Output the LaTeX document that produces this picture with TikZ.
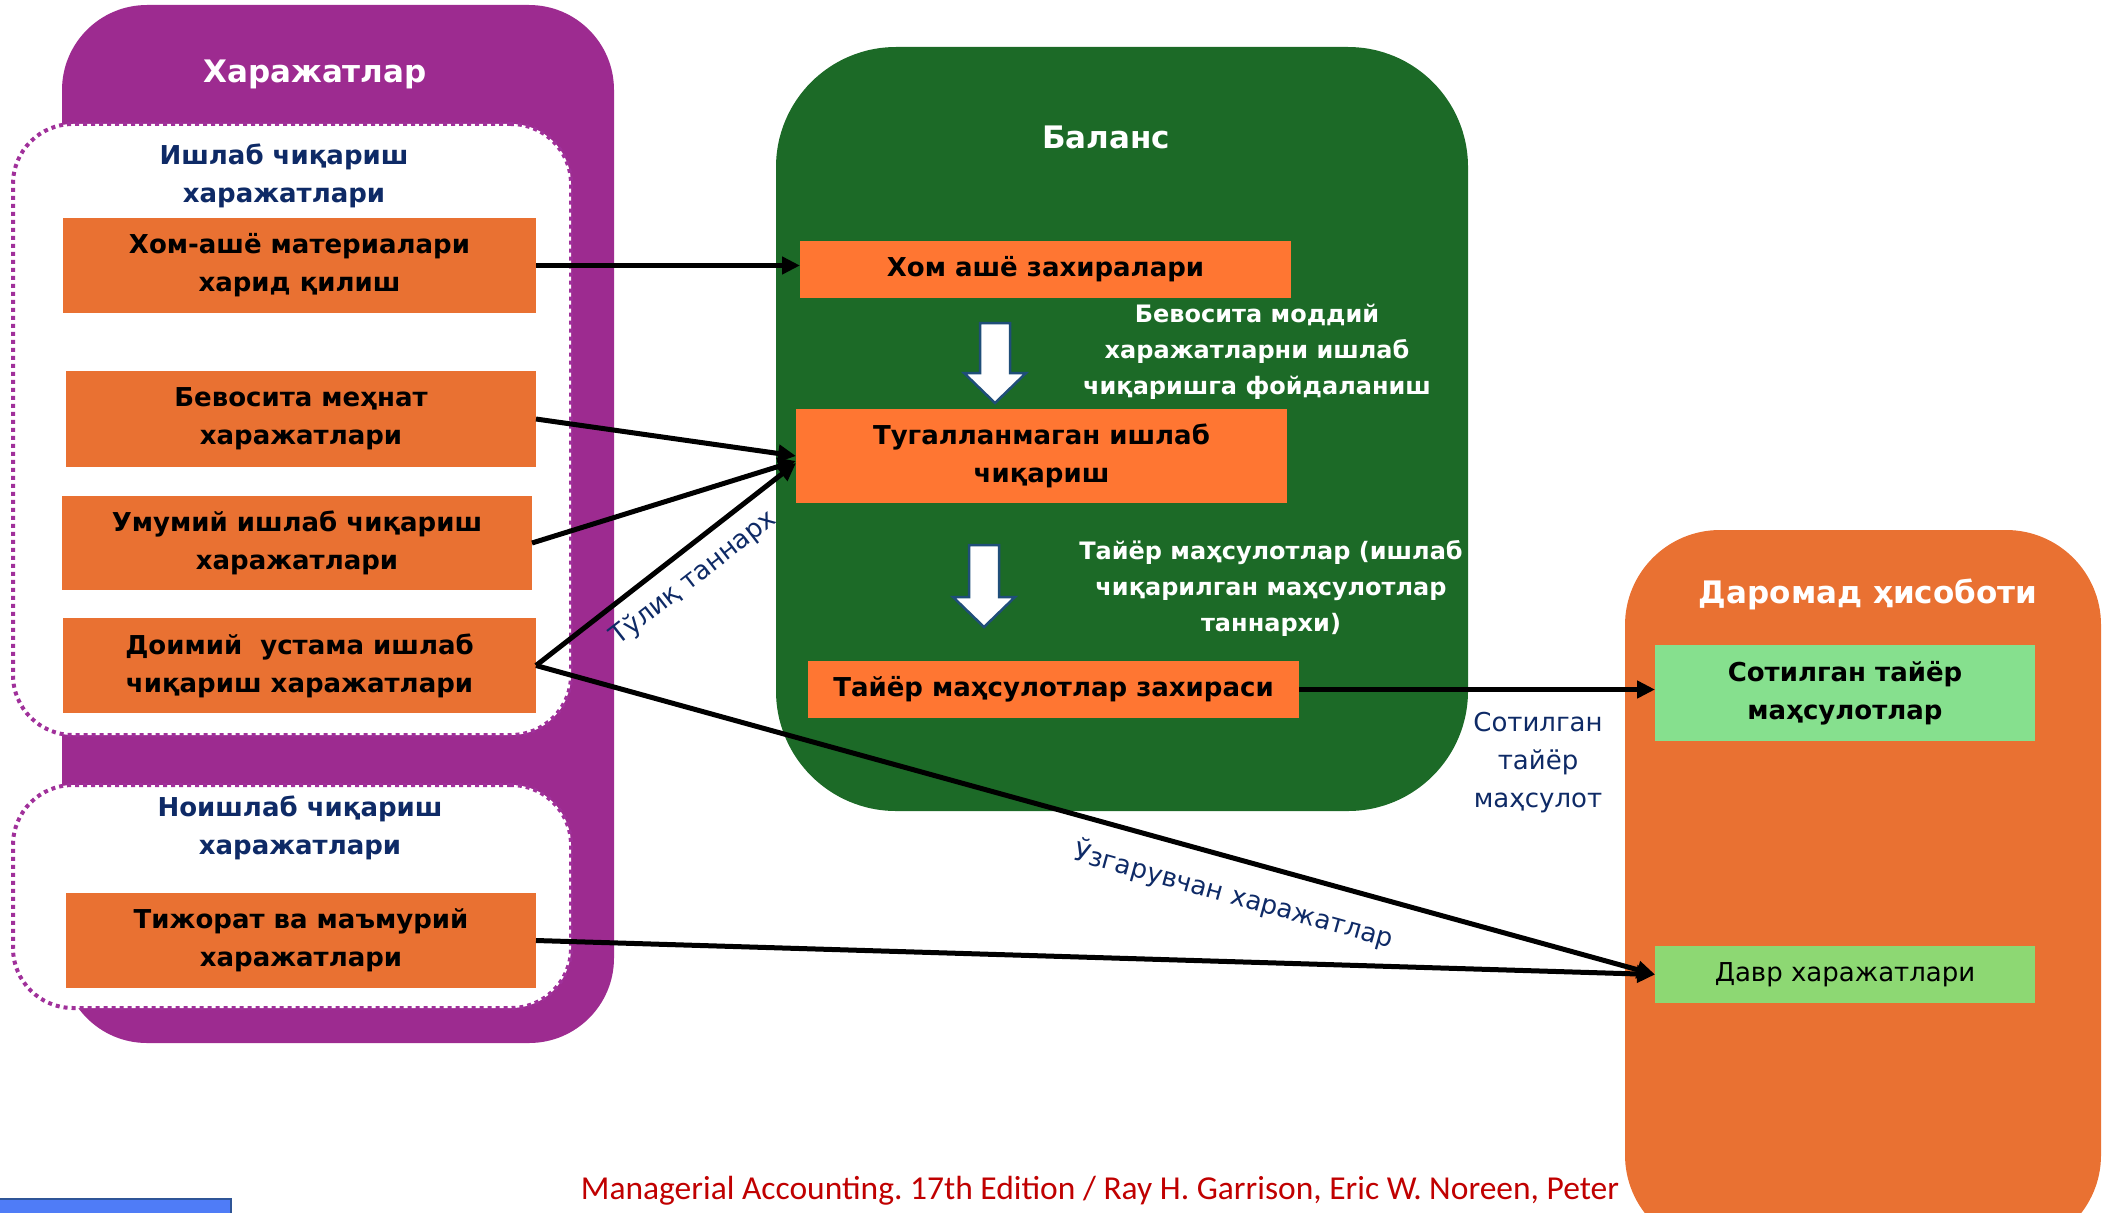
\documentclass[tikz,border=0pt]{standalone}
\usepackage{fontspec}
\setmainfont{DejaVu Sans}
\newfontfamily\footfont{Carlito}
\usetikzlibrary{arrows.meta}
\frenchspacing
\definecolor{harpurple}{HTML}{9D2B90}
\definecolor{dotpurple}{HTML}{A0309A}
\definecolor{balgreen}{HTML}{1C6A27}
\definecolor{boxorange}{HTML}{E97132}
\definecolor{balorange}{HTML}{FF7632}
\definecolor{soldgreen}{HTML}{86E08E}
\definecolor{davrgreen}{HTML}{8DD873}
\definecolor{navytext}{HTML}{0E2A66}
\definecolor{footred}{HTML}{C00000}
\definecolor{barblue}{HTML}{4F7CF7}
\definecolor{barborder}{HTML}{2F5597}
\definecolor{arrowblue}{HTML}{1F4E79}
\tikzset{
  cont/.style={inner sep=0pt, outer sep=0pt},
  dotbox/.style={cont, draw=dotpurple, fill=white, line width=4pt, dash pattern=on 4pt off 4pt, rounded corners=60pt},
  cbox/.style={inner sep=0pt, outer sep=0pt, align=center, text=black, font=\fontsize{26}{38}\selectfont\bfseries},
  ttl/.style={inner sep=0pt, align=center, text=white, font=\fontsize{31}{38}\selectfont\bfseries},
  grpttl/.style={inner sep=0pt, align=center, text=navytext, font=\fontsize{26}{38}\selectfont\bfseries},
  wnote/.style={inner sep=0pt, align=center, text=white, font=\fontsize{24}{36}\selectfont\bfseries},
  lbl/.style={inner sep=2pt, align=center, text=navytext, font=\fontsize{26}{38}\selectfont},
  conn/.style={line width=5pt, -{Triangle[length=18pt,width=17pt]}},
  blockarrow/.style={draw=arrowblue, fill=white, line width=2.5pt, line join=miter}
}
\begin{document}
\begin{tikzpicture}[x=1pt,y=-1pt]
\useasboundingbox (0,0) rectangle (2108,1212);
% containers
\node[cont, fill=harpurple, rounded corners=85pt, minimum width=552pt, minimum height=1038pt] (harajat) at (338,524) {};
\node[ttl] (harajatttl) at (315,74) {Харажатлар};
\node[dotbox, minimum width=558pt, minimum height=611pt] (prodgrp) at (292,429.5) {};
\node[dotbox, minimum width=558pt, minimum height=223pt] (nonprodgrp) at (292,896.5) {};
\node[grpttl] (prodttl) at (284,176) {Ишлаб чиқариш\\харажатлари};
\node[grpttl] (nonprodttl) at (300,828) {Ноишлаб чиқариш\\харажатлари};
\node[cbox, fill=boxorange, minimum width=473pt, minimum height=95pt] (b1) at (299.5,265.5) {Хом-ашё материалари\\харид қилиш};
\node[cbox, fill=boxorange, minimum width=470pt, minimum height=96pt] (b2) at (301,419) {Бевосита меҳнат\\харажатлари};
\node[cbox, fill=boxorange, minimum width=470pt, minimum height=94pt] (b3) at (297,543) {Умумий ишлаб чиқариш\\харажатлари};
\node[cbox, fill=boxorange, minimum width=473pt, minimum height=95pt] (b4) at (299.5,665.5) {Доимий~ устама ишлаб\\чиқариш харажатлари};
\node[cbox, fill=boxorange, minimum width=470pt, minimum height=95pt] (b5) at (301,940.5) {Тижорат ва маъмурий\\харажатлари};
% balance
\node[cont, fill=balgreen, rounded corners=120pt, minimum width=692pt, minimum height=764pt] (balance) at (1122,429) {};
\node[ttl] (balttl) at (1106,137) {Баланс};
\node[cbox, fill=balorange, minimum width=491pt, minimum height=57pt] (hom) at (1045.5,269.5) {Хом ашё захиралари};
\node[cbox, fill=balorange, minimum width=491pt, minimum height=94pt] (tug) at (1041.5,456) {Тугалланмаган ишлаб\\чиқариш};
\node[cbox, fill=balorange, minimum width=491pt, minimum height=57pt] (tayyor) at (1053.5,689.5) {Тайёр маҳсулотлар захираси};
\node[wnote] (note1) at (1257,352) {Бевосита моддий\\харажатларни ишлаб\\чиқаришга фойдаланиш};
\node[wnote] (note2) at (1271,588) {Тайёр маҳсулотлар (ишлаб\\чиқарилган маҳсулотлар\\таннархи)};
\draw[blockarrow] (980,323) -- (1010,323) -- (1010,373) -- (1026,373) -- (995,403) -- (964,373) -- (980,373) -- cycle;
\draw[blockarrow] (969,545) -- (999,545) -- (999,597) -- (1015,597) -- (984,627) -- (953,597) -- (969,597) -- cycle;
% income statement
\node[cont, fill=boxorange, rounded corners=95pt, minimum width=476pt, minimum height=720pt] (income) at (1863,890) {};
\node[ttl] (incttl) at (1868,594) {Даромад ҳисоботи};
\node[cbox, fill=soldgreen, minimum width=380pt, minimum height=96pt] (sold) at (1845,693) {Сотилган тайёр\\маҳсулотлар};
\node[cbox, fill=davrgreen, font=\fontsize{26}{38}\selectfont, minimum width=380pt, minimum height=57pt] (davr) at (1845,974.5) {Давр харажатлари};
\node[lbl] (soldlbl) at (1538,763) {Сотилган\\тайёр\\маҳсулот};
% connectors
\draw[conn] (b1.east) -- (b1.east -| hom.west);
\draw[conn] (b2.east) -- (tug.west);
\draw[conn] (b3.east) -- ([yshift=-5pt]tug.west);
\draw[conn] (b4.east) -- node[lbl, sloped, below=11pt, pos=0.54] (fulllbl) {Тўлиқ таннарх} ([yshift=-7pt]tug.west);
\draw[conn] (b4.east) -- node[lbl, sloped, below=16pt, pos=0.632] (varlbl) {Ўзгарувчан харажатлар} (davr.west);
\draw[conn] (b5.east) -- (davr.west);
\draw[conn] (tayyor.east) -- (tayyor.east -| sold.west);
% footer
\node[inner sep=0pt, text=footred, font=\footfont\fontsize{33.5}{40}\selectfont] (footer) at (1100,1191) {Managerial Accounting. 17th Edition / Ray H. Garrison, Eric W. Noreen, Peter};
\node[cont, fill=barblue, draw=barborder, line width=1.5pt, minimum width=232pt, minimum height=16pt, anchor=north west] (bar) at (-1,1199) {};
\end{tikzpicture}
\end{document}
